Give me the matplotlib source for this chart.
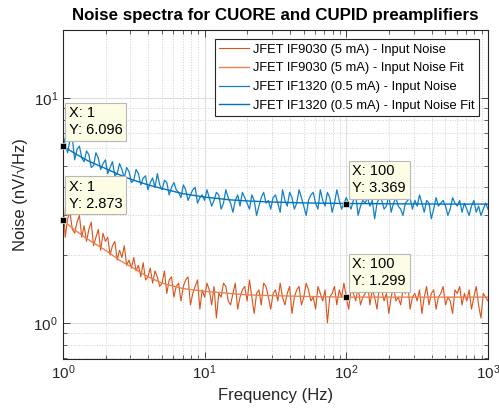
import matplotlib
matplotlib.use("Agg")
import matplotlib.pyplot as plt
import numpy as np

plt.rcParams['font.family'] = ['Liberation Sans', 'DejaVu Sans']

## frequency grid of the measured spectra, 60 points per decade
freq = np.geomspace(1, 1000, 181)

## JFET IF1320 (0.5 mA) - input noise, nV/sqrt(Hz)
blue_noise = [
    6.9, 6.2, 5.7, 6.5, 6.6, 5.3, 5.9, 6.1, 5.4, 5.2,
    5.8, 5.6, 4.9, 5.0, 5.7, 5.4, 4.8, 5.1, 5.3, 4.6,
    4.9, 5.2, 4.5, 4.6, 5.1, 4.8, 4.4, 4.9, 4.7, 4.2,
    4.3, 4.8, 4.6, 4.1, 4.4, 4.5, 3.9, 4.2, 4.4, 4.0,
    4.6, 4.1, 3.9, 4.3, 4.2, 3.7, 4.0, 4.2, 3.9, 3.8,
    3.6, 4.1, 3.9, 3.5, 3.7, 3.9, 4.0, 3.4, 3.6, 3.7,
    3.5, 3.9, 3.6, 3.3, 3.5, 3.8, 3.7, 3.2, 3.4, 3.9,
    3.6, 3.4, 3.1, 3.5, 3.7, 3.3, 3.8, 3.6, 3.4, 3.2,
    3.7, 3.5, 3.0, 3.3, 3.6, 3.8, 3.4, 3.5, 3.2, 3.6,
    3.7, 3.4, 3.1, 3.9, 3.5, 3.3, 3.8, 3.6, 3.2, 3.4,
    3.9, 3.6, 3.3, 3.0, 3.5, 3.7, 3.8, 3.4, 3.2, 3.9,
    3.5, 3.3, 3.8, 3.6, 3.1, 3.4, 3.9, 3.5, 3.2, 3.4,
    3.6, 3.4, 3.2, 3.5, 3.7, 3.0, 3.3, 3.5, 3.4, 3.6,
    3.3, 3.5, 2.9, 3.4, 3.6, 3.5, 3.2, 3.3, 3.7, 3.1,
    3.4, 3.6, 3.3, 3.2, 3.0, 3.4, 3.5, 3.6, 3.2, 3.5,
    3.3, 3.7, 3.4, 3.1, 3.5, 3.4, 2.9, 3.2, 3.6, 3.3,
    3.4, 3.5, 3.3, 3.0, 3.2, 3.6, 3.4, 3.3, 3.5, 3.1,
    3.4, 3.2, 3.0, 3.3, 3.5, 3.1, 3.3, 3.0, 3.2, 3.4,
    3.2,
]

## JFET IF9030 (5 mA) - input noise
orange_noise = [
    3.6, 2.4, 2.9, 3.1, 2.6, 2.5, 2.8, 3.0, 2.4, 2.7,
    2.3, 2.6, 2.8, 2.2, 2.4, 2.6, 2.1, 2.5, 2.3, 2.4,
    2.0, 2.2, 2.3, 1.9, 2.1, 1.95, 2.2, 1.8, 1.9, 1.75,
    1.95, 1.7, 1.8, 1.6, 1.85, 1.55, 1.6, 1.75, 1.5, 1.7,
    1.6, 1.45, 1.5, 1.7, 1.35, 1.55, 1.6, 1.3, 1.45, 1.5,
    1.25, 1.45, 1.55, 1.6, 1.2, 1.35, 1.45, 1.55, 1.15, 1.4,
    1.3, 1.5, 1.4, 1.2, 1.45, 1.05, 1.35, 1.3, 1.5, 1.45,
    1.25, 1.2, 1.35, 1.5, 1.15, 1.3, 1.4, 1.45, 1.25, 1.55,
    1.3, 1.1, 1.35, 1.4, 1.2, 1.5, 1.45, 1.3, 1.15, 1.35,
    1.4, 1.25, 1.5, 1.3, 1.2, 1.35, 1.45, 1.1, 1.3, 1.4,
    1.45, 1.2, 1.3, 1.5, 1.4, 1.25, 1.3, 1.15, 1.45, 1.35,
    1.25, 1.4, 1.0, 1.3, 1.35, 1.45, 1.2, 1.4, 1.3, 1.5,
    1.3, 1.15, 1.4, 1.35, 1.25, 1.45, 1.2, 1.3, 1.35, 1.5,
    1.2, 1.4, 1.3, 1.15, 1.45, 1.4, 1.25, 1.35, 1.1, 1.3,
    1.45, 1.25, 1.3, 1.2, 1.4, 1.35, 1.5, 1.15, 1.3, 1.35,
    1.25, 1.4, 1.1, 1.3, 1.45, 1.2, 1.35, 1.4, 1.15, 1.3,
    1.35, 1.45, 1.2, 1.3, 1.25, 1.1, 1.4, 1.35, 1.45, 1.2,
    1.35, 1.25, 1.4, 1.15, 1.3, 1.45, 1.2, 1.05, 1.35, 1.3,
    1.25,
]

## fits
fit_f      = [1, 1.25, 1.5, 2, 2.5, 3, 4, 5, 7, 10, 15, 20, 30, 50, 100, 200, 500, 1000]
blue_fit   = [6.1, 5.6, 5.25, 4.85, 4.55, 4.35, 4.1, 3.95, 3.75, 3.62, 3.52, 3.48, 3.44, 3.41, 3.39, 3.38, 3.37, 3.37]
orange_fit = [2.85, 2.55, 2.35, 2.1, 1.9, 1.78, 1.6, 1.5, 1.42, 1.38, 1.35, 1.33, 1.32, 1.31, 1.30, 1.30, 1.30, 1.30]

## data tips
tip_x = [1, 1, 100, 100]
tip_y = [6.096, 2.873, 3.369, 1.299]
tip_txt = ['X: 1\nY: 6.096', 'X: 1\nY: 2.873', 'X: 100\nY: 3.369', 'X: 100\nY: 1.299']

labels = ['JFET IF9030 (5 mA) - Input Noise',
          'JFET IF9030 (5 mA) - Input Noise Fit',
          'JFET IF1320 (0.5 mA) - Input Noise',
          'JFET IF1320 (0.5 mA) - Input Noise Fit']

fig = plt.figure(figsize=(4.99, 4.12), dpi=100)
ax = fig.add_axes([0.126, 0.1286, 0.852, 0.7984])

ax.plot(freq, orange_noise, color='#D95319', lw=0.8, label=labels[0])
ax.plot(fit_f, orange_fit, color='#EC8050', lw=1.0, label=labels[1])
ax.plot(freq, blue_noise, color='#1180C8', lw=0.9, label=labels[2])
ax.plot(fit_f, blue_fit, color='#0072BD', lw=1.0, label=labels[3])

ax.set_xscale('log')
ax.set_yscale('log')
ax.set_xlim(1, 1000)
ax.set_ylim(0.69, 20)

ax.grid(True, which='major', color='#dedede', lw=0.8, ls='-')
ax.grid(True, which='minor', color='#d0d0d0', lw=0.7, ls=':')
ax.set_axisbelow(True)
ax.tick_params(which='both', direction='in', top=True, right=True, colors='#262626', labelsize=11)
ax.tick_params(which='major', length=5, width=0.6)
ax.tick_params(which='minor', length=3, width=0.5)
ax.yaxis.set_minor_formatter(matplotlib.ticker.NullFormatter())
for s in ax.spines.values():
    s.set_color('#262626')
    s.set_linewidth(0.8)

ax.set_title('Noise spectra for CUORE and CUPID preamplifiers', fontsize=12.2, fontweight='bold', pad=7)
ax.set_xlabel('Frequency (Hz)', fontsize=12, color='#262626')
ax.set_ylabel('Noise (nV/\u221aHz)', fontsize=12, color='#262626')

leg = ax.legend(loc='upper right', fontsize=9.3, fancybox=False, edgecolor='#262626',
                framealpha=1, borderpad=0.35, labelspacing=0.52, handlelength=2.3,
                handletextpad=0.3, borderaxespad=0.7)
leg.get_frame().set_linewidth(0.8)

for x, y, t in zip(tip_x, tip_y, tip_txt):
    ax.plot(x, y, 's', color='black', ms=5, mec='#f0f0d0', mew=0.5, clip_on=False, zorder=6)
    ax.annotate(t, (x, y), xytext=(6, 9), textcoords='offset pixels', fontsize=10.5,
                ha='left', va='bottom', linespacing=1.25, zorder=7,
                bbox=dict(boxstyle='square,pad=0.25', fc='#fdfde6', ec='#b8b8b8', lw=0.8))

fig.savefig('out.png', dpi=100)
